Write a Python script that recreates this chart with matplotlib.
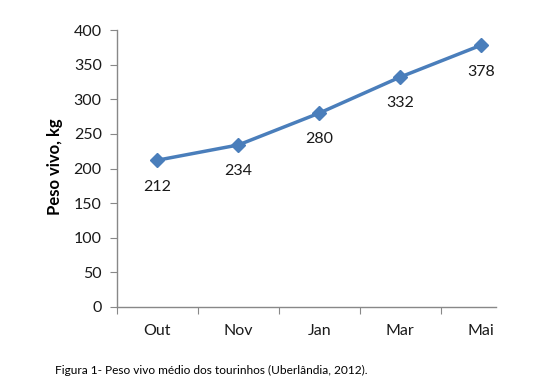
import matplotlib.pyplot as plt

# dados
meses = ['Out', 'Nov', 'Jan', 'Mar', 'Mai']
peso = [212, 234, 280, 332, 378]

plt.rcParams['font.family'] = ['Lato', 'DejaVu Sans']

W, H = 536, 392
fig = plt.figure(figsize=(W / 100, H / 100), dpi=100)
ax = fig.add_axes([117 / W, 1 - 307 / H, (496 - 117) / W, (307 - 30) / H])

x = list(range(len(meses)))
ax.plot(x, peso, color='#4A7EBB', lw=2.5, marker='D', ms=7, mfc='#4A7EBB', mec='#4A7EBB')
for xi, v in zip(x, peso):
    ax.annotate(str(v), (xi, v), xytext=(0, -19), textcoords='offset points',
                ha='center', va='center', fontsize=11.5, color='#1a1a1a')

ax.set_ylim(0, 400)
ax.set_yticks(range(0, 401, 50))
ax.set_xlim(-0.5, 4.185)
ax.set_xticks([i - 0.5 for i in x])
ax.set_xticklabels([])
ax.set_xticks(x, minor=True)
ax.set_xticklabels(meses, minor=True)
ax.tick_params(axis='x', which='minor', length=0, pad=12, labelsize=11.5, labelcolor='#1a1a1a')
ax.tick_params(axis='x', which='major', length=5, color='#888888', direction='out')
ax.tick_params(axis='y', length=5, color='#888888', labelsize=11.5, labelcolor='#1a1a1a', pad=6)

for s in ['top', 'right']:
    ax.spines[s].set_visible(False)
for s in ['left', 'bottom']:
    ax.spines[s].set_color('#888888')
    ax.spines[s].set_linewidth(1)

fig.text(55 / W, 1 - 167 / H, 'Peso vivo, kg', rotation=90, ha='center', va='center',
         fontsize=12, fontweight='bold')
fig.text(55 / W, 1 - 370 / H, 'Figura 1- Peso vivo médio dos tourinhos (Uberlândia, 2012).',
         ha='left', va='center', fontsize=8.6)

fig.savefig('out.png', dpi=100)
